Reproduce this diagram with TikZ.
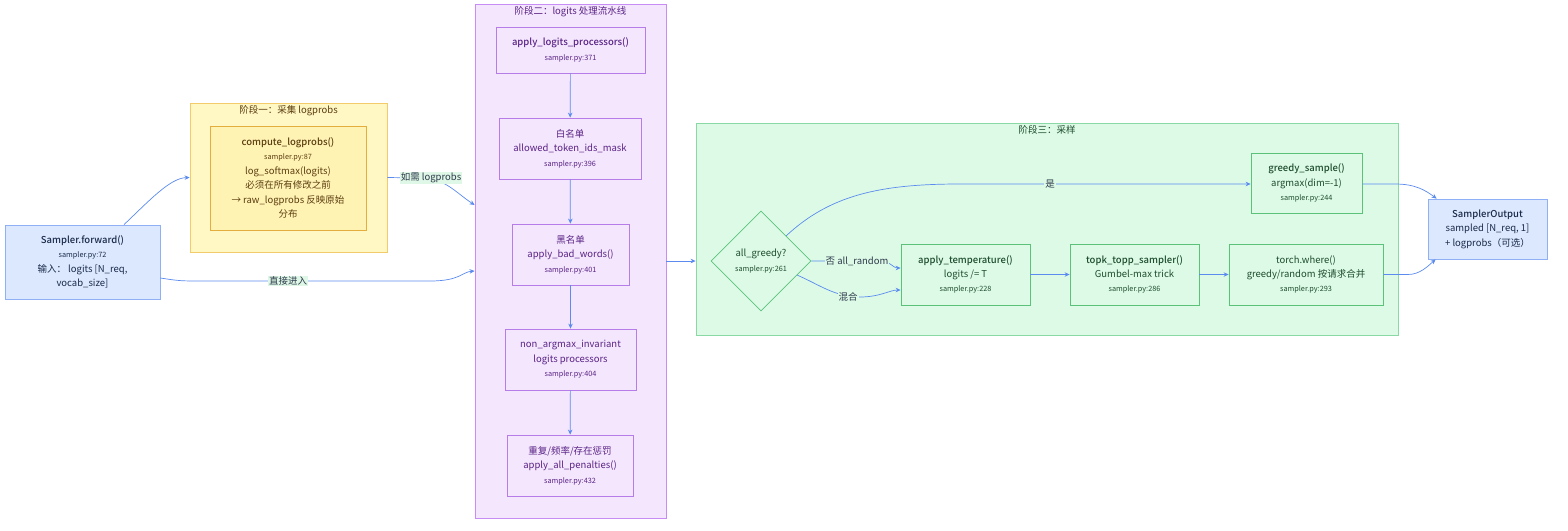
\documentclass[tikz,border=0pt]{standalone}
\usepackage{fontspec}
\setmainfont{Noto Sans CJK SC}[BoldFont={Noto Sans CJK SC Medium}]
\usetikzlibrary{shapes.geometric,arrows.meta}
\definecolor{edgec}{HTML}{5B8BEF}
\definecolor{lblbg}{HTML}{DFF7E6}
\definecolor{lbltx}{HTML}{2F3A4C}
\definecolor{bluefill}{HTML}{DBE8FD}
\definecolor{blueline}{HTML}{8FB0F4}
\definecolor{bluetx}{HTML}{1B2A4A}
\definecolor{yelfill}{HTML}{FFF7C4}
\definecolor{yelline}{HTML}{F2CB6A}
\definecolor{yelinner}{HTML}{FFF3B4}
\definecolor{yelinline}{HTML}{E3AE3E}
\definecolor{yeltx}{HTML}{5B3D0F}
\definecolor{purfill}{HTML}{F3E6FD}
\definecolor{purline}{HTML}{C88CF5}
\definecolor{purnode}{HTML}{B67CE8}
\definecolor{purtx}{HTML}{5A2385}
\definecolor{grnfill}{HTML}{DCFAE6}
\definecolor{grnline}{HTML}{8AD8A4}
\definecolor{grnnode}{HTML}{5BC27A}
\definecolor{grntx}{HTML}{1E4D2E}
\newcommand{\smalltxt}[1]{{\fontsize{7.3}{8}\selectfont #1}}
\tikzset{
  base/.style={rectangle, inner sep=0pt, align=center, line width=0.8pt,
    font=\fontsize{9.5}{14.4}\selectfont},
  bluebox/.style={base, draw=blueline, fill=bluefill, text=bluetx},
  yelclus/.style={rectangle, draw=yelline, fill=yelfill, line width=0.8pt, inner sep=0pt},
  yelbox/.style={base, draw=yelinline, fill=yelinner, text=yeltx},
  purclus/.style={rectangle, draw=purline, fill=purfill, line width=0.8pt, inner sep=0pt},
  purbox/.style={base, draw=purnode, fill=purfill, text=purtx},
  grnclus/.style={rectangle, draw=grnline, fill=grnfill, line width=0.8pt, inner sep=0pt},
  grnbox/.style={base, draw=grnnode, fill=grnfill, text=grntx},
  cltitle/.style={font=\fontsize{9.5}{12}\selectfont, anchor=north, inner sep=2pt},
  conn/.style={draw=edgec, line width=0.7pt, -{Stealth[length=5pt,width=4.5pt]}},
  elabel/.style={fill=lblbg, text=lbltx, inner sep=1pt, font=\fontsize{9.5}{12}\selectfont},
  elabelg/.style={text=lbltx, inner sep=1pt, font=\fontsize{9.5}{12}\selectfont, fill=grnfill},
}
\begin{document}
\begin{tikzpicture}[x=1pt,y=-1pt]
\useasboundingbox[fill=white] (0,0) rectangle (1568,530);

% clusters
\node[yelclus, minimum width=197pt, minimum height=149pt] (s1) at (288.5,177.5) {};
\node[cltitle, text=yeltx] (s1t) at ([yshift=-1pt]s1.north) {阶段一：采集 logprobs};
\node[purclus, minimum width=191pt, minimum height=514pt] (s2) at (570.5,261) {};
\node[cltitle, text=purtx] (s2t) at ([yshift=-1pt]s2.north) {阶段二：logits 处理流水线};
\node[grnclus, minimum width=702pt, minimum height=212pt] (s3) at (1047,229) {};
\node[cltitle, text=grntx] (s3t) at ([yshift=-1pt]s3.north) {阶段三：采样};

% nodes
\node[bluebox, minimum width=155pt, minimum height=74pt] (fwd) at (82.5,262)
  {\textbf{Sampler.forward()}\\\smalltxt{sampler.py:72}\\输入： logits [N\_req,\\vocab\_size]};
\node[yelbox, minimum width=156pt, minimum height=104pt] (cl) at (288,178)
  {\textbf{compute\_logprobs()}\\\smalltxt{sampler.py:87}\\log\_softmax(logits)\\必须在所有修改之前\\→ raw\_logprobs 反映原始\\分布};

\node[purbox, minimum width=149pt, minimum height=46pt] (alp) at (570.5,50)
  {\textbf{apply\_logits\_processors()}\\\smalltxt{sampler.py:371}};
\node[purbox, minimum width=142pt, minimum height=61pt] (wl) at (570,148.5)
  {白名单\\allowed\_token\_ids\_mask\\\smalltxt{sampler.py:396}};
\node[purbox, minimum width=117pt, minimum height=61pt] (bl) at (570.5,254.5)
  {黑名单\\apply\_bad\_words()\\\smalltxt{sampler.py:401}};
\node[purbox, minimum width=131pt, minimum height=61pt] (na) at (570.5,359.5)
  {non\_argmax\_invariant\\logits processors\\\smalltxt{sampler.py:404}};
\node[purbox, minimum width=126pt, minimum height=61pt] (pen) at (570,465.5)
  {重复/频率/存在惩罚\\apply\_all\_penalties()\\\smalltxt{sampler.py:432}};

\node[diamond, aspect=1, draw=grnnode, fill=grnfill, text=grntx, line width=0.6pt,
  inner sep=0pt, minimum width=100pt, minimum height=100pt, align=center,
  font=\fontsize{9.5}{14.4}\selectfont] (dia) at (761,261)
  {all\_greedy?\\\smalltxt{sampler.py:261}};
\node[grnbox, minimum width=111pt, minimum height=60pt] (gs) at (1306.5,183)
  {\textbf{greedy\_sample()}\\argmax(dim=-1)\\\smalltxt{sampler.py:244}};
\node[grnbox, minimum width=129pt, minimum height=61pt] (at) at (965.5,274.5)
  {\textbf{apply\_temperature()}\\logits /= T\\\smalltxt{sampler.py:228}};
\node[grnbox, minimum width=129pt, minimum height=61pt] (tk) at (1134.5,274.5)
  {\textbf{topk\_topp\_sampler()}\\Gumbel-max trick\\\smalltxt{sampler.py:286}};
\node[grnbox, minimum width=154pt, minimum height=61pt] (tw) at (1306,274.5)
  {torch.where()\\greedy/random 按请求合并\\\smalltxt{sampler.py:293}};
\node[bluebox, minimum width=119pt, minimum height=60pt] (so) at (1487.5,229)
  {\textbf{SamplerOutput}\\sampled [N\_req, 1]\\+ logprobs（可选）};

% connectors
\coordinate (fwdtop) at ([xshift=41.5pt]fwd.north);
\draw[conn] (fwdtop) .. controls (150,200) and (170,178) .. (s1.west);
\coordinate (fwdr) at ([yshift=-16pt]fwd.east);
\coordinate (s2in) at (s2.west |- 0,271);
\draw[conn] (fwdr) .. controls (180,281) .. (205,281) -- (430,281) .. controls (460,281) and (462,272) .. (s2in);
\node[elabel] (l1) at (288,281) {直接进入};

\coordinate (s2in2) at (s2.west |- 0,205);
\draw[conn] (s1.east) -- (420,178) .. controls (445,178) and (455,192) .. (s2in2);
\node[elabel] (l2) at (431,178) {如需 logprobs};

\draw[conn] (s2.east |- dia) -- (s3.west |- dia);

\draw[conn] (alp) -- (wl);
\draw[conn] (wl) -- (bl);
\draw[conn] (bl) -- (na);
\draw[conn] (na) -- (pen);

\draw[conn] (dia.north east) .. controls (830,195) and (880,184) .. (960,184) -- (gs.west |- 0,184);
\node[elabelg] (l3) at (1050,184) {是};

\coordinate (atin1) at ([yshift=6.5pt]at.west);
\coordinate (atin2) at ([yshift=-15.5pt]at.west);
\draw[conn] (dia.east) -- (880,261) .. controls (890,261) and (893,268) .. (atin1);
\node[elabelg] (l4) at (857,261) {否 all\_random};
\coordinate (dialow) at (797,275);
\draw[conn] (dialow) .. controls (820,285) and (835,297) .. (860,297) .. controls (880,297) and (890,290) .. (atin2);
\node[elabelg] (l5) at (848,297) {混合};

\draw[conn] (at) -- (tk);
\draw[conn] (tk) -- (tw);

\coordinate (soin1) at ([xshift=9pt]so.north west);
\coordinate (soin2) at ([xshift=8pt]so.south west);
\draw[conn] (gs.east |- 0,184) -- (1395,184) .. controls (1415,184) and (1425,190) .. (soin1);
\draw[conn] (tw.east) -- (1408,274.5) .. controls (1420,274.5) and (1428,266) .. (soin2);
\end{tikzpicture}
\end{document}
